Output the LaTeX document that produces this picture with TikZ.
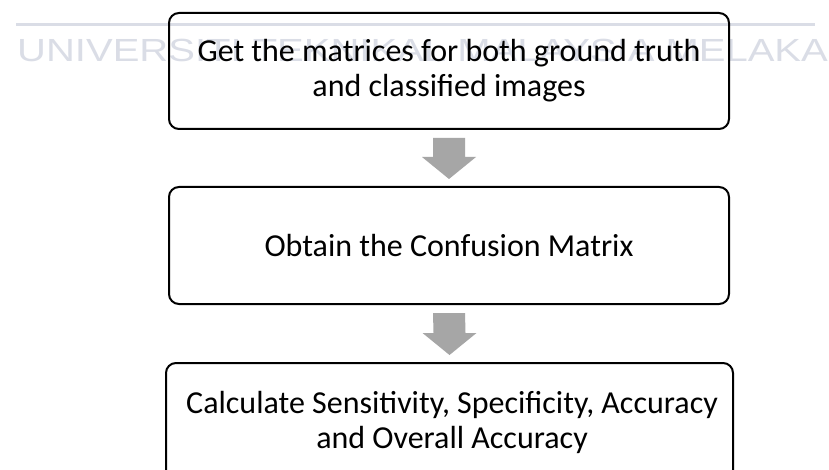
\documentclass[tikz,border=0pt]{standalone}
\usepackage{fontspec}
\setmainfont{Carlito}
\newfontfamily\markfont{Liberation Sans}
\usetikzlibrary{calc}
\definecolor{markgray}{HTML}{DADDE6}
\definecolor{arrowgray}{HTML}{A6A6A6}
\tikzset{
  stepbox/.style={draw=black, line width=2pt, rounded corners=10pt, inner sep=0pt},
  steptext/.style={font=\fontsize{32}{35}\selectfont, align=center, inner sep=0pt, text=black},
  blockarrow/.style={fill=arrowgray, draw=none},
}
\begin{document}
\begin{tikzpicture}[x=1pt, y=-1pt]
\useasboundingbox (0,0) rectangle (829,470);
\clip (0,0) rectangle (829,470);
\fill[white] (0,0) rectangle (829,470);

% background watermark rule and text
\draw[markgray, line width=3pt] (16,25) -- (815,25);
\node[anchor=base west, inner sep=0pt, text=markgray, font=\markfont\fontsize{32}{38}\selectfont] (wm) at (17,62) {\scalebox{1.25}[1]{UNIVERSITI TEKNIKAL MALAYSIA MELAKA}};

% process steps (multi-line text is anchored at the baseline of its last line)
\node[stepbox, minimum width=560pt, minimum height=116pt] (s1) at (449,71) {};
\node[steptext, anchor=base] (t1) at (449,97) {Get the matrices for both ground truth\\and classified images};

\node[stepbox, minimum width=560pt, minimum height=117pt] (s2) at (449,245.5) {};
\node[steptext, anchor=base] (t2) at (449,256) {Obtain the Confusion Matrix};

\node[stepbox, minimum width=567pt, minimum height=117pt] (s3) at (449.5,421.5) {};
\node[steptext, anchor=base] (t3) at (452,448) {Calculate Sensitivity, Specificity, Accuracy\\and Overall Accuracy};

% block arrows between steps
\foreach \a/\b in {s1/s2, s2/s3}{
  \path ($(\a.south)+(0,8)$) coordinate (top) ($(\b.north)+(0,-7)$) coordinate (tip);
  \fill[blockarrow] ($(top)+(-16,0)$) -- ($(top)+(16,0)$) -- ($(tip)+(16,-22)$) -- ($(tip)+(27,-22)$)
    -- (tip) -- ($(tip)+(-27,-22)$) -- ($(tip)+(-16,-22)$) -- cycle;
}
\end{tikzpicture}
\end{document}
